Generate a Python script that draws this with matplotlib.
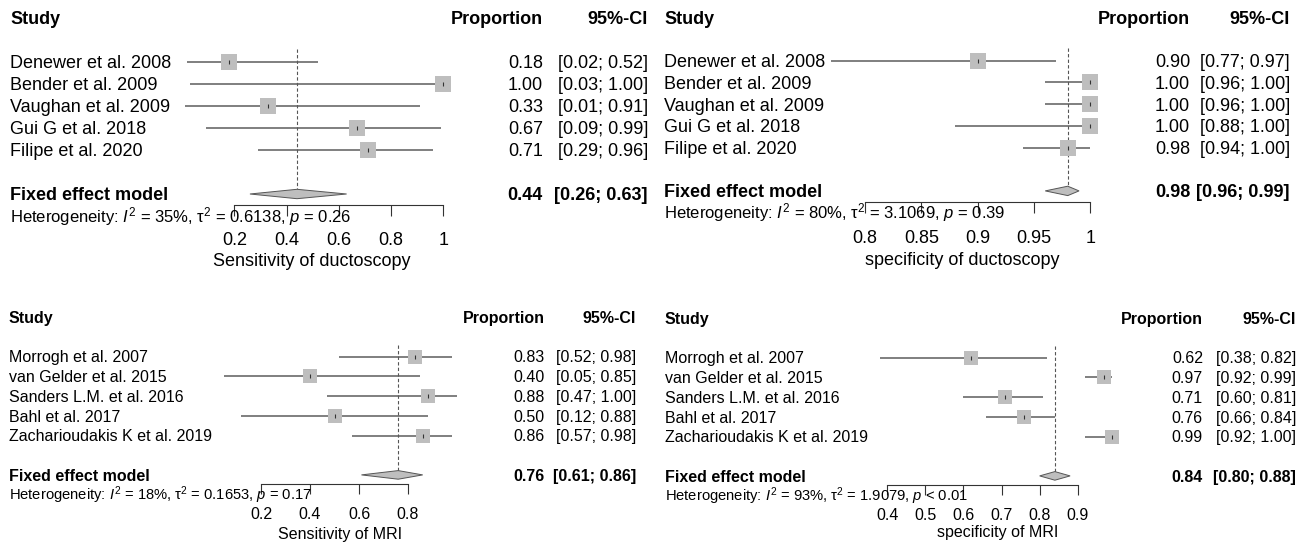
import matplotlib
matplotlib.use("Agg")
import matplotlib.pyplot as plt
import matplotlib.transforms as mtransforms

plt.rcParams["font.family"] = "Liberation Sans"
plt.rcParams["mathtext.fontset"] = "custom"
plt.rcParams["mathtext.rm"] = "Liberation Sans"
plt.rcParams["mathtext.it"] = "Liberation Sans:italic"

# ---- data -------------------------------------------------------------
duct_studies = ["Denewer et al. 2008", "Bender et al. 2009", "Vaughan et al. 2009",
                "Gui G et al. 2018", "Filipe et al. 2020"]
mri_studies = ["Morrogh et al. 2007", "van Gelder et al. 2015", "Sanders L.M. et al. 2016",
               "Bahl et al. 2017", "Zacharioudakis K et al. 2019"]

sens_duct = [0.18, 1.00, 0.33, 0.67, 0.71]
sens_duct_lo = [0.02, 0.03, 0.01, 0.09, 0.29]
sens_duct_hi = [0.52, 1.00, 0.91, 0.99, 0.96]
sens_duct_pool = [0.44, 0.26, 0.63]

spec_duct = [0.90, 1.00, 1.00, 1.00, 0.98]
spec_duct_lo = [0.77, 0.96, 0.96, 0.88, 0.94]
spec_duct_hi = [0.97, 1.00, 1.00, 1.00, 1.00]
spec_duct_pool = [0.98, 0.96, 0.99]

sens_mri = [0.83, 0.40, 0.88, 0.50, 0.86]
sens_mri_lo = [0.52, 0.05, 0.47, 0.12, 0.57]
sens_mri_hi = [0.98, 0.85, 1.00, 0.88, 0.98]
sens_mri_pool = [0.76, 0.61, 0.86]

spec_mri = [0.62, 0.97, 0.71, 0.76, 0.99]
spec_mri_lo = [0.38, 0.92, 0.60, 0.66, 0.92]
spec_mri_hi = [0.82, 0.99, 0.81, 0.84, 1.00]
spec_mri_pool = [0.84, 0.80, 0.88]

het_sens_duct = r"Heterogeneity: $I^2$ = 35%, τ$^2$ = 0.6138, $p$ = 0.26"
het_spec_duct = r"Heterogeneity: $I^2$ = 80%, τ$^2$ = 3.1069, $p$ = 0.39"
het_sens_mri = r"Heterogeneity: $I^2$ = 18%, τ$^2$ = 0.1653, $p$ = 0.17"
het_spec_mri = r"Heterogeneity: $I^2$ = 93%, τ$^2$ = 1.9079, $p$ < 0.01"

ticks_sens_duct = [0.2, 0.4, 0.6, 0.8, 1.0]
labels_sens_duct = ["0.2", "0.4", "0.6", "0.8", "1"]
ticks_spec_duct = [0.8, 0.85, 0.9, 0.95, 1.0]
labels_spec_duct = ["0.8", "0.85", "0.9", "0.95", "1"]
ticks_sens_mri = [0.2, 0.4, 0.6, 0.8]
labels_sens_mri = ["0.2", "0.4", "0.6", "0.8"]
ticks_spec_mri = [0.4, 0.5, 0.6, 0.7, 0.8, 0.9]
labels_spec_mri = ["0.4", "0.5", "0.6", "0.7", "0.8", "0.9"]

# ---- layout (pixels) --------------------------------------------------
W, H = 1307, 547
fig = plt.figure(figsize=(W / 100, H / 100), dpi=100)

SQ = "#bebebe"
LN = "#5c5c5c"


def forest(names, est, lo, hi, pool, het, ticks, ticklabels, xlabel, L):
    x0, k, y0, dy = L["x0"], L["k"], L["y0"], L["dy"]
    t0, t1 = ticks[0], ticks[-1]
    rtop, rbot = -0.5, 11.5
    ax = fig.add_axes([(x0 + k * t0) / W, 1 - (y0 + rbot * dy) / H,
                       k * (t1 - t0) / W, (rbot - rtop) * dy / H])
    ax.set_xlim(t0, t1)
    ax.set_ylim(rbot, rtop)
    ax.patch.set_visible(False)
    for s in ["left", "right", "top"]:
        ax.spines[s].set_visible(False)
    ax.spines["bottom"].set_position(("data", L["axis_r"]))
    ax.spines["bottom"].set_bounds(t0, t1)
    ax.spines["bottom"].set_color("#333333")
    ax.spines["bottom"].set_linewidth(0.8)
    ax.set_yticks([])
    ax.set_xticks(ticks, ticklabels)
    ax.tick_params(axis="x", direction="out", length=L["tick_len"] * 0.72, width=0.8,
                   color="#333333", pad=L["pad"], labelsize=L["fs"])

    tr = mtransforms.blended_transform_factory(fig.transFigure, ax.transData)
    fs, hfs = L["fs"], L["hfs"]

    def ty(r, size):
        # baseline position so that the cap-height centre sits on row r
        return r + 0.36 * size * 100 / 72 / dy

    # header
    ax.text(L["sx"] / W, ty(0, fs), "Study", transform=tr, fontsize=fs,
            fontweight="bold", va="baseline", ha="left")
    ax.text(L["px"] / W, ty(0, fs), "Proportion", transform=tr, fontsize=fs,
            fontweight="bold", va="baseline", ha="right")
    ax.text(L["cx"] / W, ty(0, fs), "95%-CI", transform=tr, fontsize=fs,
            fontweight="bold", va="baseline", ha="right")

    rows = list(range(2, 2 + len(names)))
    ax.hlines(rows, lo, hi, color=LN, lw=1.1, clip_on=False, zorder=2)
    ax.plot(est, rows, "s", ms=L["sq"], color=SQ, mew=0, clip_on=False, zorder=3)
    ax.plot(est, rows, "|", ms=3.5, color="#333333", mew=0.8, clip_on=False, zorder=4)
    for r, n, e, l, h in zip(rows, names, est, lo, hi):
        ax.text(L["sx"] / W, ty(r, fs), n, transform=tr, fontsize=fs, va="baseline", ha="left")
        ax.text(L["px"] / W, ty(r, fs), f"{e:.2f}", transform=tr, fontsize=fs,
                va="baseline", ha="right")
        ax.text(L["cx"] / W, ty(r, fs), f"[{l:.2f}; {h:.2f}]", transform=tr, fontsize=fs,
                va="baseline", ha="right")

    # pooled estimate
    rp = 8
    dh = L["dh"] / dy
    pe, pl, ph = pool
    ax.fill([pl, pe, ph, pe], [rp, rp - dh, rp, rp + dh], facecolor=SQ,
            edgecolor="#555555", lw=0.7, clip_on=False, zorder=3)
    ax.vlines(pe, 1.4, rp - dh, colors="#555555", linestyles=(0, (3, 2)), lw=0.8, zorder=1)
    ax.text(L["sx"] / W, ty(rp, fs), "Fixed effect model", transform=tr, fontsize=fs,
            fontweight="bold", va="baseline", ha="left")
    ax.text(L["px"] / W, ty(rp, fs), f"{pe:.2f}", transform=tr, fontsize=fs,
            fontweight="bold", va="baseline", ha="right")
    ax.text(L["cx"] / W, ty(rp, fs), f"[{pl:.2f}; {ph:.2f}]", transform=tr, fontsize=fs,
            fontweight="bold", va="baseline", ha="right")
    ax.text(L["sx"] / W, ty(9, hfs), het, transform=tr, fontsize=hfs, va="baseline", ha="left")

    ax.text(L["lx"] / W, ty(L["lab_r"], fs), xlabel, transform=tr, fontsize=fs,
            va="baseline", ha="center")
    return ax


top = dict(fs=13, hfs=12, sq=11.9, dh=4.7, tick_len=10.5, pad=12)
bot = dict(fs=11.5, hfs=10.6, sq=10.6, dh=4.3, tick_len=9.8, pad=9.5)

forest(duct_studies, sens_duct, sens_duct_lo, sens_duct_hi, sens_duct_pool, het_sens_duct,
       ticks_sens_duct, labels_sens_duct, "Sensitivity of ductoscopy",
       dict(top, x0=182, k=261.3, y0=18, dy=22, axis_r=8.5, lab_r=11.0,
            sx=10, px=543, cx=648, lx=312))

forest(duct_studies, spec_duct, spec_duct_lo, spec_duct_hi, spec_duct_pool, het_spec_duct,
       ticks_spec_duct, labels_spec_duct, "specificity of ductoscopy",
       dict(top, x0=-36.4, k=1126.7, y0=17.3, dy=21.7, axis_r=8.53, lab_r=11.1,
            sx=664, px=1190, cx=1290, lx=962))

forest(mri_studies, sens_mri, sens_mri_lo, sens_mri_hi, sens_mri_pool, het_sens_mri,
       ticks_sens_mri, labels_sens_mri, "Sensitivity of MRI",
       dict(bot, x0=212, k=245, y0=317.3, dy=19.7, axis_r=8.46, lab_r=10.95,
            sx=9, px=545, cx=636, lx=340))

forest(mri_studies, spec_mri, spec_mri_lo, spec_mri_hi, spec_mri_pool, het_spec_mri,
       ticks_spec_mri, labels_spec_mri, "specificity of MRI",
       dict(bot, x0=735, k=380.8, y0=318.3, dy=19.7, axis_r=8.48, lab_r=10.8,
            sx=665, px=1203, cx=1296, lx=998))

fig.savefig("out.png", dpi=100)
